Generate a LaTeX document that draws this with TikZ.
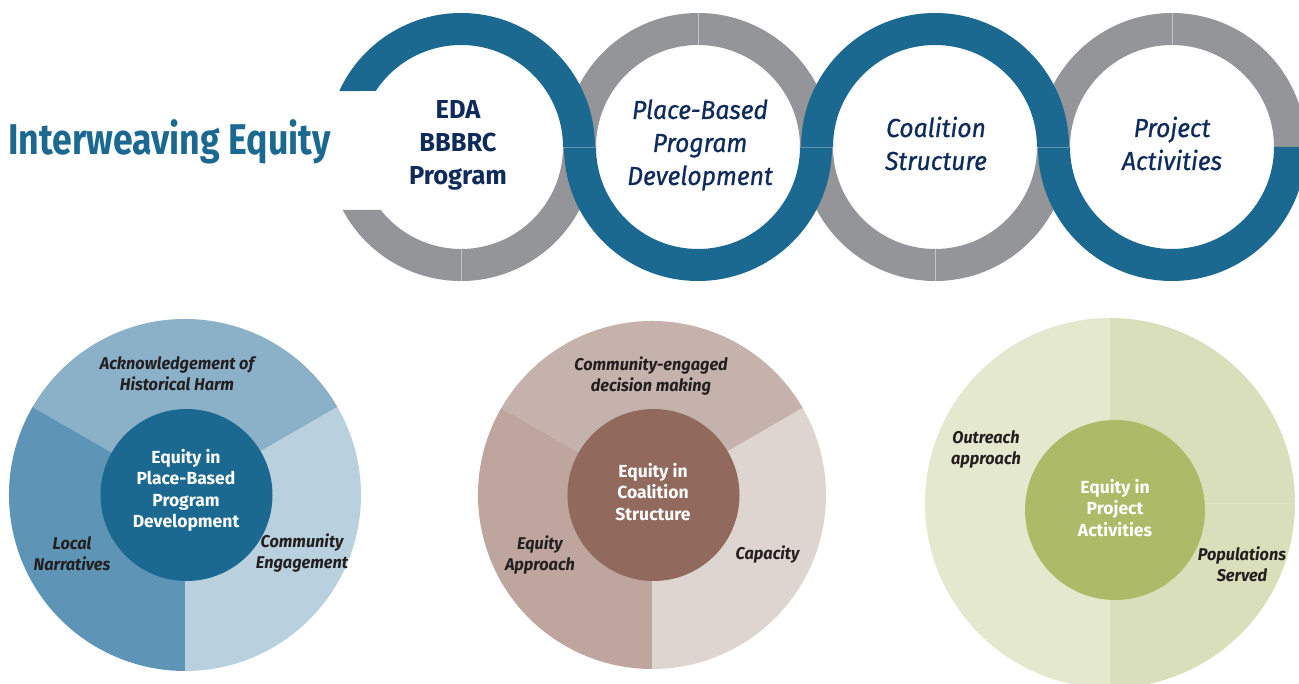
\documentclass[tikz,border=0pt]{standalone}
\usepackage{fontspec}
\setmainfont{Fira Sans}
\newfontfamily\titlefont{Fira Sans}[FakeStretch=0.83]
\newfontfamily\ringbf{Fira Sans}[FakeStretch=0.98]
\newfontfamily\ringit{Fira Sans}[FakeStretch=0.95, FakeBold=0.8]
\newfontfamily\lblfont{Fira Sans}[FakeStretch=0.96]
\usetikzlibrary{calc}
\definecolor{ringblue}{HTML}{1B6991}
\definecolor{ringgrey}{HTML}{939598}
\definecolor{navy}{HTML}{0F2B5B}
\definecolor{labeldark}{HTML}{231F20}
\definecolor{pAtop}{HTML}{8BB1C9}
\definecolor{pAleft}{HTML}{5E95B6}
\definecolor{pAright}{HTML}{B9D1DF}
\definecolor{pBtop}{HTML}{C5B2AC}
\definecolor{pBleft}{HTML}{BEA59D}
\definecolor{pBright}{HTML}{DED4D0}
\definecolor{pBcore}{HTML}{91695D}
\definecolor{pCleft}{HTML}{E4E8CF}
\definecolor{pCright}{HTML}{D9DFBA}
\definecolor{pCcore}{HTML}{ADBA68}
\tikzset{
  ringtxt/.style={align=center, text=navy, inner sep=0pt},
  ringbold/.style={ringtxt, font=\ringbf\fontsize{26}{33}\selectfont\bfseries},
  ringital/.style={ringtxt, font=\ringit\fontsize{26}{33}\selectfont\itshape},
  seam/.style={white, opacity=0.45, line width=0.8pt},
  lbl/.style={align=center, text=labeldark, inner sep=0pt, font=\lblfont\fontsize{17}{21}\selectfont\bfseries\itshape},
  coretxt/.style={align=center, text=white, inner sep=0pt, font=\fontsize{17.5}{21.5}\selectfont\bfseries},
}
\begin{document}
\begin{tikzpicture}[x=1pt,y=1pt]
\useasboundingbox (0,0) rectangle (1299,683);
\clip (0,0) rectangle (1299,683);
\fill[white] (0,0) rectangle (1299,683);
% ring centres
\coordinate (c1) at (461,536);
\coordinate (c2) at (698,536);
\coordinate (c3) at (935,536);
\coordinate (c4) at (1172,536);
% grey halves
\fill[ringgrey] ($(c1)+(208:134)$) arc[start angle=208,end angle=360,radius=134]
  -- ($(c1)+(0:102)$) arc[start angle=360,end angle=218.1,radius=102] -- cycle;
\fill[ringgrey] ($(c2)+(0:134)$) arc[start angle=0,end angle=180,radius=134]
  -- ($(c2)+(180:102)$) arc[start angle=180,end angle=0,radius=102] -- cycle;
\fill[ringgrey] ($(c3)+(180:134)$) arc[start angle=180,end angle=360,radius=134]
  -- ($(c3)+(0:102)$) arc[start angle=360,end angle=180,radius=102] -- cycle;
\fill[ringgrey] ($(c4)+(0:134)$) arc[start angle=0,end angle=180,radius=134]
  -- ($(c4)+(180:102)$) arc[start angle=180,end angle=0,radius=102] -- cycle;
% grey seams
\draw[seam] ($(c1)+(270:102)$) -- ($(c1)+(270:134)$);
\draw[seam] ($(c2)+(90:102)$) -- ($(c2)+(90:134)$);
\draw[seam] ($(c3)+(270:102)$) -- ($(c3)+(270:134)$);
\draw[seam] ($(c4)+(90:102)$) -- ($(c4)+(90:134)$);
% blue halves
\fill[ringblue] ($(c1)+(0:134)$) arc[start angle=0,end angle=155.3,radius=134]
  -- ($(c1)+(146.7:102)$) arc[start angle=146.7,end angle=0,radius=102] -- cycle;
\fill[ringblue] ($(c2)+(180:134)$) arc[start angle=180,end angle=360,radius=134]
  -- ($(c2)+(0:102)$) arc[start angle=360,end angle=180,radius=102] -- cycle;
\fill[ringblue] ($(c3)+(0:134)$) arc[start angle=0,end angle=180,radius=134]
  -- ($(c3)+(180:102)$) arc[start angle=180,end angle=0,radius=102] -- cycle;
\fill[ringblue] ($(c4)+(180:134)$) arc[start angle=180,end angle=360,radius=134]
  -- ($(c4)+(0:102)$) arc[start angle=360,end angle=180,radius=102] -- cycle;
% horizontal seams
\draw[seam, opacity=0.3] ($(c1)+(0:102)$) -- ($(c2)+(180:102)$);
\draw[seam, opacity=0.3] ($(c2)+(0:102)$) -- ($(c3)+(180:102)$);
\draw[seam, opacity=0.3] ($(c3)+(0:102)$) -- ($(c4)+(180:102)$);
% title
\node[anchor=base west, inner sep=0pt, text=ringblue, font=\titlefont\fontsize{43}{50}\selectfont\bfseries] (title) at (8,528) {Interweaving Equity};
% ring texts
\node[ringbold] (t1) at (458,538) {EDA\\BBBRC\\Program};
\node[ringital] (t2) at (700,538) {Place-Based\\Program\\Development};
\node[ringital] (t3) at (936,539.5) {Coalition\\Structure};
\node[ringital] (t4) at (1172,539.5) {Project\\Activities};
% pie 1
\coordinate (p1) at (185,188);
\fill[pAtop] (p1) -- ++(30:176) arc[start angle=30,end angle=150,radius=176] -- cycle;
\fill[pAleft] (p1) -- ++(150:176) arc[start angle=150,end angle=270,radius=176] -- cycle;
\fill[pAright] (p1) -- ++(270:176) arc[start angle=270,end angle=390,radius=176] -- cycle;
\fill[ringblue] (186.5,188) circle[radius=86];
\node[lbl] (l1a) at (177,309.5) {Acknowledgement of\\Historical Harm};
\node[lbl] (l1b) at (72,129.5) {Local\\Narratives};
\node[lbl] (l1c) at (302,129.5) {Community\\Engagement};
\node[coretxt] (k1) at (186,192.5) {Equity in\\Place-Based\\Program\\Development};
% pie 2
\coordinate (p2) at (652,188);
\fill[pBtop] (p2) -- ++(30:174) arc[start angle=30,end angle=150,radius=174] -- cycle;
\fill[pBleft] (p2) -- ++(150:174) arc[start angle=150,end angle=270,radius=174] -- cycle;
\fill[pBright] (p2) -- ++(270:174) arc[start angle=270,end angle=390,radius=174] -- cycle;
\fill[pBcore] (653.5,188) circle[radius=86];
\node[lbl] (l2a) at (651,307) {Community-engaged\\decision making};
\node[lbl] (l2b) at (540,128) {Equity\\Approach};
\node[lbl] (l2c) at (767.5,128) {Capacity};
\node[coretxt] (k2) at (653,191) {Equity in\\Coalition\\Structure};
% pie 3
\coordinate (p3) at (1110,180);
\fill[pCleft] (p3) -- ++(90:185) arc[start angle=90,end angle=270,radius=185] -- cycle;
\fill[pCright] (p3) -- ++(270:185) arc[start angle=270,end angle=450,radius=185] -- cycle;
\draw[seam, opacity=0.2] (p3) -- ++(0:185);
\fill[pCcore] (1115,173) circle[radius=90];
\node[lbl] (l3a) at (986,234) {Outreach\\approach};
\node[lbl] (l3b) at (1242,118.5) {Populations\\Served};
\node[coretxt] (k3) at (1115,175) {Equity in\\Project\\Activities};
\end{tikzpicture}
\end{document}
